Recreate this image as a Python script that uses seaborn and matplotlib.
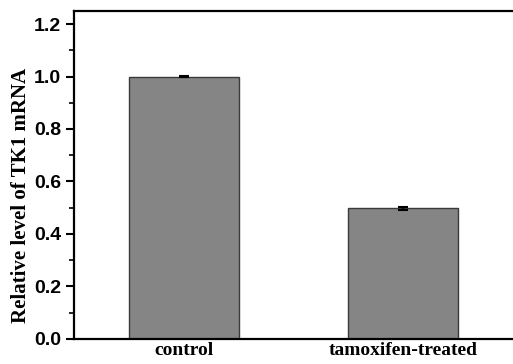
import pandas as pd
import numpy as np
import seaborn as sns
import matplotlib.pyplot as plt
from matplotlib.ticker import MultipleLocator

# values
groups = ["control", "tamoxifen-treated"]
levels = [1.0, 0.497]
errors = [0.003, 0.007]

df = pd.DataFrame({"group": groups, "level": levels, "err": errors})

sns.set_style("ticks")
plt.rcParams['font.family'] = ['Liberation Sans', 'DejaVu Sans']
plt.rcParams['text.color'] = 'black'
plt.rcParams['xtick.color'] = 'black'
plt.rcParams['ytick.color'] = 'black'
plt.rcParams['axes.labelcolor'] = 'black'

fig = plt.figure(figsize=(5.13, 3.64), dpi=100)
ax = fig.add_axes([0.144, 0.069, 0.866, 0.901])

sns.barplot(x="group", y="level", data=df, color="#858585", width=0.5,
            edgecolor="#3a3a3a", linewidth=1.0, errorbar=None, saturation=1, ax=ax)
ax.errorbar(x=np.arange(len(groups)), y=df["level"], yerr=df["err"], fmt="none",
            ecolor="black", elinewidth=1.2, capsize=3.5, capthick=1.5)

ax.set_ylim(0, 1.25)
ax.set_xlim(-0.503, 1.525)
ax.yaxis.set_major_locator(MultipleLocator(0.2))
ax.yaxis.set_minor_locator(MultipleLocator(0.1))
ax.tick_params(axis="y", which="major", length=6, width=1.5, labelsize=14, pad=3)
ax.tick_params(axis="y", which="minor", length=3.5, width=1.2)
ax.tick_params(axis="x", length=0, pad=2)
for lab in ax.get_yticklabels():
    lab.set_fontweight("bold")
for lab in ax.get_xticklabels():
    lab.set_fontfamily("Liberation Serif")
    lab.set_fontweight("bold")
    lab.set_fontsize(14)

ax.set_xlabel("")
ax.set_ylabel("Relative level of TK1 mRNA", fontfamily="Liberation Serif",
              fontweight="bold", fontsize=15)
ax.yaxis.set_label_coords(-0.097, 0.436)

for side in ["top", "right", "left", "bottom"]:
    ax.spines[side].set_visible(True)
    ax.spines[side].set_linewidth(1.6)
    ax.spines[side].set_color("black")

fig.savefig("out.png", dpi=100)
